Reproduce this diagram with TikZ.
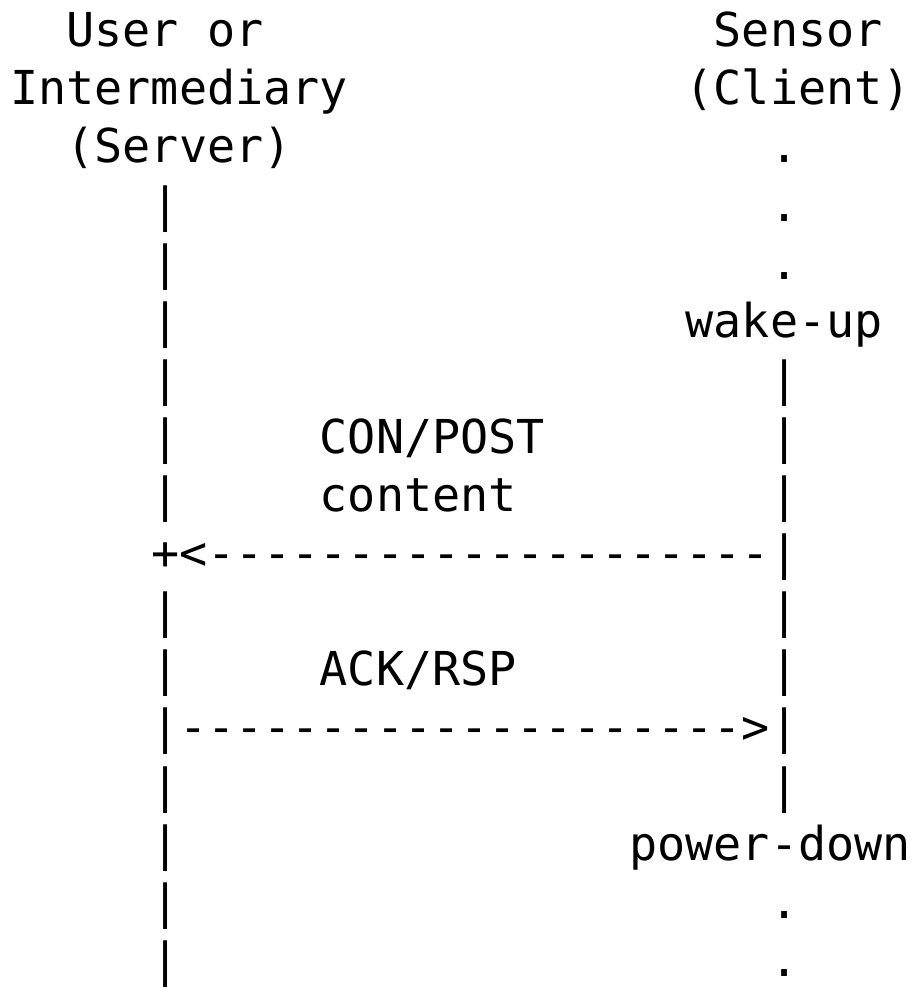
\documentclass[tikz,border=0pt]{standalone}
\usepackage{fontspec}
\setmonofont{DejaVu Sans Mono}
\tikzset{
  ascii/.style={anchor=base west, inner sep=0pt, outer sep=0pt,
    font=\ttfamily\fontsize{46.74}{58.1}\selectfont}
}
\begin{document}
\begin{tikzpicture}[x=28.14pt, y=-58.1pt]
\useasboundingbox (-10.3pt,46.7pt) rectangle (900.7pt,-941.3pt);
% headers
\node[ascii] (user)   at (2,0)  {User or};
\node[ascii] (sensor) at (25,0) {Sensor};
\node[ascii] (inter)  at (0,1)  {Intermediary};
\node[ascii] (client) at (24,1) {(Client)};
\node[ascii] (server) at (2,2)  {(Server)};
% left lifeline
\foreach \r in {3,4,5,6,7,8,10,11,12,13,14,15,16}
  \node[ascii] (L\r) at (5,\r) {|};
\node[ascii] (plus) at (5,9) {+};
% right lifeline
\foreach \r in {2,3,4,15,16}
  \node[ascii] (D\r) at (27,\r) {.};
\node[ascii] (wake) at (24,5) {wake-up};
\foreach \r in {6,7,8,9,10,11,12,13}
  \node[ascii] (R\r) at (27,\r) {|};
\node[ascii] (power) at (22,14) {power-down};
% messages
\node[ascii] (con)     at (11,7)  {CON/POST};
\node[ascii] (content) at (11,8)  {content};
\node[ascii] (lt)      at (6,9)   {<};
\node[ascii] (dash1)   at (7,9)   {--------------------};
\node[ascii] (ack)     at (11,11) {ACK/RSP};
\node[ascii] (dash2)   at (6,12)  {--------------------};
\node[ascii] (gt)      at (26,12) {>};
\end{tikzpicture}
\end{document}
